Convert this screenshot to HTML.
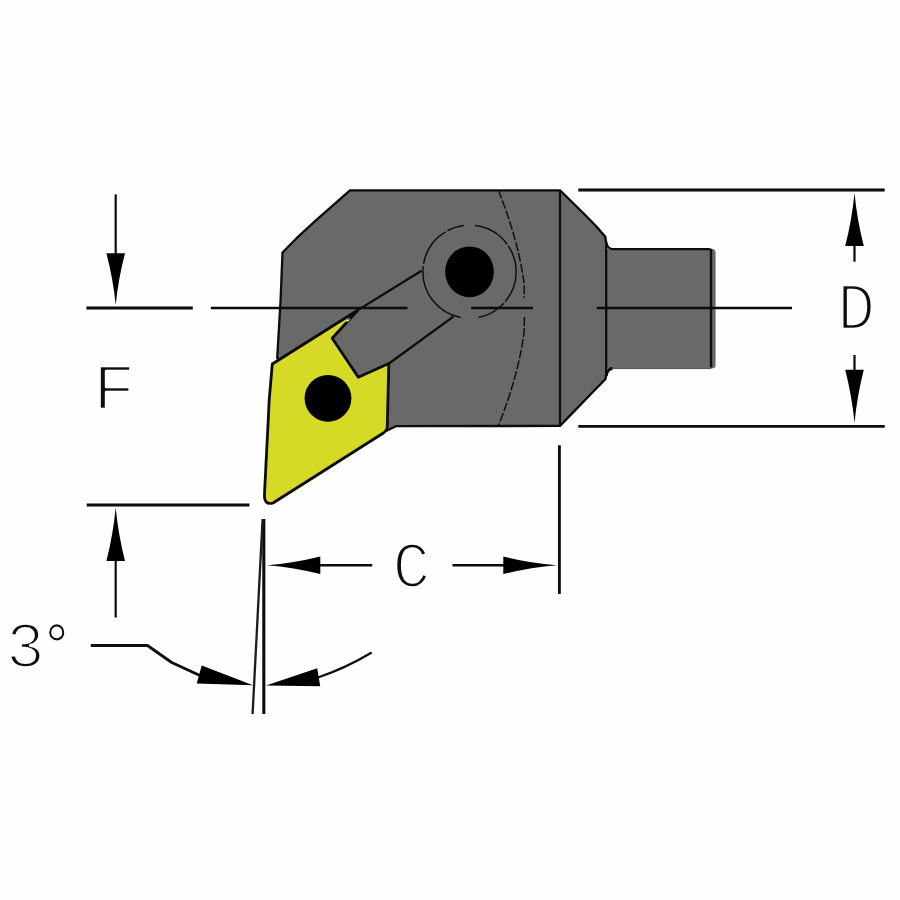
<!DOCTYPE html>
<html>
<head>
<meta charset="utf-8">
<title>Tool holder drawing</title>
<style>
html,body{margin:0;padding:0;background:#fefefe;}
body{width:900px;height:900px;overflow:hidden;}
svg{display:block;}
text{font-family:"Liberation Mono","Liberation Sans",monospace;fill:#0c0c0c;}
</style>
</head>
<body>
<svg width="900" height="900" viewBox="0 0 900 900">
<defs>
<filter id="soft" x="-5%" y="-5%" width="110%" height="110%"><feGaussianBlur stdDeviation="0.6"/></filter>
<filter id="softt" x="-20%" y="-20%" width="140%" height="140%"><feGaussianBlur stdDeviation="0.45"/></filter>
</defs>
<rect x="0" y="0" width="900" height="900" fill="#fefefe"/>
<g filter="url(#soft)">
<!-- holder body -->
<path d="M606,249 L712,249 Q715.6,249 715.6,252.5 L715.6,365 Q715.6,368.5 712,368.5 L606,368.5 Z" fill="#6a6a6a"/>
<path d="M315.6,220.6 L350,190.3 L560,190.3 L573,203 L584.5,214.3 L596,226 L605.3,236.8 L606.2,243 L606.2,374 L605.5,379 L560,425.9 L396,426.2 L387,430.5 L330,400 L277.2,358 L280.6,300 L282.5,252.5 L298,236.8 Z" fill="#696969" stroke="#0a0a0a" stroke-width="2.3" stroke-linejoin="round"/>
<!-- shank lines -->
<path d="M606.2,242 Q606.8,248.4 612.5,249.1 L710,249.1" fill="none" stroke="#0a0a0a" stroke-width="2.4"/>
<path d="M711,249.6 L711,366.3" fill="none" stroke="#0a0a0a" stroke-width="2.4" stroke-linecap="round"/>
<path d="M606.2,376 Q606.8,369.2 612.5,368.2" fill="none" stroke="#0a0a0a" stroke-width="3"/>
<path d="M611,368.6 L711,368.6" fill="none" stroke="#3a3a3a" stroke-width="0.8"/>
<line x1="560" y1="190" x2="560" y2="426" stroke="#0a0a0a" stroke-width="2.2"/>
<!-- big dashed arc -->
<path d="M498.3,190 Q519,242 524.2,285 L524.2,298" fill="none" stroke="#111" stroke-width="1.5" stroke-dasharray="9 2"/>
<path d="M524.4,317 L524.2,331 Q519,374 498.3,426" fill="none" stroke="#111" stroke-width="1.5" stroke-dasharray="9 2"/>
<!-- dashed circle -->
<path d="M475.2,225.5 A46.6,46.6 0 0 1 478.4,317.5" fill="none" stroke="#111" stroke-width="1.5" stroke-dasharray="38 2 60 2"/>
<path d="M460.6,317.5 A46.6,46.6 0 0 1 463.8,225.5" fill="none" stroke="#111" stroke-width="1.5" stroke-dasharray="70 2 40 2"/>
<!-- clamp lines -->
<path d="M421.5,270.8 L357,310.6" fill="none" stroke="#0a0a0a" stroke-width="2.2"/>
<line x1="453.3" y1="316.7" x2="389" y2="363.5" stroke="#0a0a0a" stroke-width="2.2"/>
<!-- screw -->
<ellipse cx="469.5" cy="271.8" rx="24.3" ry="25.4" fill="#000"/>
<!-- insert -->
<path d="M272.3,364 L269.2,400 L268.2,421 L266.2,460 L264.5,494 Q263.8,505.5 273,503 L383,433.3 Q387.2,430.8 387.3,426 L388.8,363.5 L358.3,377.3 L332.2,338.3 L358,310 Z" fill="#d5da28" stroke="#0a0a0a" stroke-width="2.8" stroke-linejoin="round"/>
<path d="M344.8,321.6 L350.5,318.3 L348.3,321.4 Z" fill="#f6f6f2"/>
<circle cx="328" cy="398.3" r="23.4" fill="#000"/>
<!-- centre line -->
<g stroke="#0a0a0a" stroke-width="2.9" fill="none">
<line x1="86.4" y1="308" x2="192.8" y2="308"/>
<line x1="210.8" y1="308" x2="407.5" y2="308" stroke-width="2.5"/>
<line x1="471.2" y1="308" x2="533" y2="308" stroke-width="2.4"/>
<line x1="596.7" y1="308" x2="792" y2="308" stroke-width="2.5"/>
<!-- D dimension -->
<line x1="578.3" y1="190" x2="884.7" y2="190"/>
<line x1="578.3" y1="426.4" x2="884.7" y2="426.4"/>
<line x1="854.5" y1="240" x2="854.5" y2="261.7" stroke-width="2.2"/>
<line x1="854.5" y1="355" x2="854.5" y2="375" stroke-width="2.2"/>
<!-- F dimension -->
<line x1="86.7" y1="505" x2="249.4" y2="505"/>
<line x1="115.7" y1="194.4" x2="115.7" y2="256" stroke-width="2.2"/>
<line x1="115.7" y1="556" x2="115.7" y2="617.5" stroke-width="2.2"/>
<!-- C dimension -->
<line x1="559.4" y1="445.3" x2="559.4" y2="593.9"/>
<line x1="315" y1="565.2" x2="372.2" y2="565.2" stroke-width="2.5"/>
<line x1="452.5" y1="565.3" x2="508" y2="565.3" stroke-width="2.6"/>
<!-- angle -->
<line x1="263.8" y1="519" x2="263.8" y2="714" stroke-width="3.1"/>
<line x1="262.6" y1="519" x2="252.6" y2="714" stroke-width="2.3" stroke="#1c1c1c"/>
<path d="M90.8,645.5 L147.5,645.5 L171.7,662.5 L201,676" stroke-width="2.8" stroke-linejoin="round"/>
<path d="M318,677.5 Q346,668 371.7,652.5" stroke-width="2.2"/>
</g>
<!-- arrow heads -->
<g fill="#000" stroke="none">
<path d="M854.5,193.0 Q852.0,219.5 845.2,246.0 L863.8,246.0 Q857.0,219.5 854.5,193.0 Z"/>
<path d="M854.5,423.0 Q857.0,396.4 863.8,369.7 L845.2,369.7 Q852.0,396.4 854.5,423.0 Z"/>
<path d="M115.7,305.0 Q118.2,279.1 125.0,253.2 L106.4,253.2 Q113.2,279.1 115.7,305.0 Z"/>
<path d="M115.7,507.5 Q113.2,534.2 106.4,561.0 L125.0,561.0 Q118.2,534.2 115.7,507.5 Z"/>
<path d="M267.0,565.2 Q293.6,567.4 320.3,574.0 L320.3,556.4 Q293.6,563.0 267.0,565.2 Z"/>
<path d="M557.0,565.3 Q530.1,563.1 503.3,556.5 L503.3,574.1 Q530.1,567.5 557.0,565.3 Z"/>
<path d="M253,685.2 L201.7,665.6 L196.7,683.6 Z"/>
<path d="M266,685.6 L317.2,668.2 L320.2,686.2 Z"/>
</g>
</g>
<!-- labels -->
<g filter="url(#softt)">
<text transform="matrix(0.7136 0 0 0.6515 92.73 408.80)" x="0" y="0" font-size="100" stroke="#fefefe" stroke-width="2.5" vector-effect="non-scaling-stroke" stroke-linejoin="round">F</text>
<text transform="matrix(0.6298 0 0 0.6576 837.21 329.45)" x="0" y="0" font-size="100" stroke="#fefefe" stroke-width="2.5" vector-effect="non-scaling-stroke" stroke-linejoin="round">D</text>
<text transform="matrix(0.6306 0 0 0.6515 392.57 587.40)" x="0" y="0" font-size="100" stroke="#fefefe" stroke-width="2.5" vector-effect="non-scaling-stroke" stroke-linejoin="round">C</text>
<text transform="matrix(0.6458 0 0 0.6500 5.97 667.00)" x="0" y="0" font-size="100" stroke="#fefefe" stroke-width="2.5" vector-effect="non-scaling-stroke" stroke-linejoin="round">3</text>
<text transform="matrix(0.5750 0 0 0.6071 39.60 665.28)" x="0" y="0" font-size="100" stroke="#fefefe" stroke-width="1.0" vector-effect="non-scaling-stroke" stroke-linejoin="round">°</text>
</g>
</svg>
</body>
</html>
